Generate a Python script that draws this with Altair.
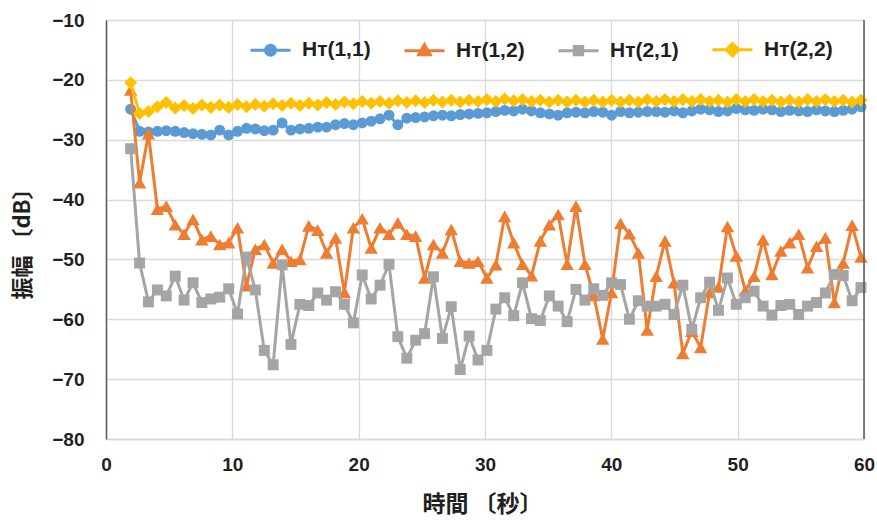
import altair as alt
import pandas as pd

times = [1.95, 2.66, 3.36, 4.07, 4.77, 5.48, 6.18, 6.89, 7.59, 8.30,
         9.00, 9.71, 10.41, 11.12, 11.82, 12.53, 13.23, 13.94, 14.64, 15.35,
         16.05, 16.76, 17.46, 18.17, 18.87, 19.58, 20.28, 20.99, 21.69, 22.40,
         23.10, 23.81, 24.51, 25.22, 25.92, 26.63, 27.33, 28.04, 28.74, 29.45,
         30.15, 30.86, 31.56, 32.27, 32.97, 33.68, 34.38, 35.09, 35.79, 36.50,
         37.20, 37.91, 38.61, 39.32, 40.02, 40.73, 41.43, 42.14, 42.84, 43.55,
         44.25, 44.96, 45.66, 46.37, 47.07, 47.78, 48.48, 49.19, 49.89, 50.60,
         51.30, 52.01, 52.71, 53.42, 54.12, 54.83, 55.53, 56.24, 56.94, 57.65,
         58.35, 59.06, 59.76]

h11 = [-24.9, -28.6, -28.7, -28.6, -28.5, -28.6, -28.8, -29.0, -29.1, -29.2,
       -28.4, -29.2, -28.6, -28.1, -28.2, -28.5, -28.4, -27.2, -28.4, -28.2,
       -28.1, -27.9, -27.9, -27.5, -27.3, -27.5, -27.2, -26.9, -26.5, -25.9,
       -27.5, -26.4, -26.3, -26.2, -26.0, -25.9, -26.0, -25.8, -25.7, -25.6,
       -25.5, -25.3, -25.1, -25.2, -24.9, -25.2, -25.5, -25.7, -25.9, -25.5,
       -25.4, -25.5, -25.3, -25.4, -25.9, -25.3, -25.5, -25.4, -25.3, -25.3,
       -25.4, -25.2, -25.5, -25.2, -24.9, -25.0, -25.3, -25.2, -24.8, -25.0,
       -25.1, -24.9, -25.0, -25.3, -25.1, -25.2, -25.3, -25.0, -25.2, -25.3,
       -25.1, -24.9, -24.5]

h12 = [-21.7, -37.2, -29.0, -41.6, -41.1, -44.2, -45.8, -43.3, -46.7, -46.1,
       -47.5, -47.2, -44.7, -54.4, -48.3, -47.5, -50.6, -48.3, -50.3, -50.0,
       -44.4, -45.1, -48.9, -46.4, -55.5, -44.7, -43.2, -48.1, -44.7, -45.8,
       -43.9, -45.8, -46.1, -53.1, -47.5, -48.9, -45.0, -50.3, -50.6, -50.3,
       -53.1, -50.9, -42.8, -47.2, -50.8, -52.7, -46.9, -44.2, -42.5, -50.8,
       -41.1, -50.8, -56.0, -63.3, -55.5, -44.0, -45.7, -48.9, -61.8, -52.8,
       -46.9, -53.9, -65.7, -62.0, -64.7, -55.5, -54.6, -44.5, -49.4, -55.2,
       -52.8, -46.7, -52.5, -48.6, -47.2, -45.8, -51.4, -47.8, -46.4, -57.2,
       -50.6, -44.3, -49.6]

h21 = [-31.5, -50.6, -57.1, -55.1, -56.1, -52.8, -56.8, -53.9, -57.2, -56.6,
       -56.3, -54.9, -59.1, -49.6, -55.1, -65.2, -67.6, -50.9, -64.2, -57.5,
       -57.7, -55.6, -56.8, -55.4, -57.5, -60.6, -52.6, -56.6, -54.3, -50.8,
       -62.9, -66.5, -63.5, -62.4, -52.9, -63.2, -57.9, -68.4, -62.8, -66.8,
       -65.2, -58.3, -56.4, -59.4, -53.9, -59.9, -60.2, -56.1, -57.8, -60.4,
       -55.0, -56.8, -54.9, -56.0, -53.9, -54.2, -60.0, -56.9, -57.8, -57.8,
       -57.5, -59.2, -54.3, -61.7, -56.4, -53.8, -58.5, -53.1, -57.5, -56.4,
       -55.3, -57.8, -59.3, -57.7, -57.5, -59.2, -57.8, -57.2, -55.6, -52.5,
       -52.7, -56.9, -54.7]

h22 = [-20.5, -25.6, -25.3, -24.5, -23.8, -24.7, -24.3, -24.8, -24.2, -24.6,
       -24.2, -24.6, -24.1, -24.5, -24.1, -24.4, -24.0, -24.3, -23.9, -24.3,
       -23.9, -24.2, -23.8, -24.1, -23.7, -24.0, -23.6, -23.9, -23.6, -23.9,
       -23.5, -23.8, -23.5, -23.8, -23.4, -23.7, -23.4, -23.7, -23.4, -23.6,
       -23.3, -23.6, -23.2, -23.5, -23.3, -23.6, -23.4, -23.7, -23.4, -23.7,
       -23.4, -23.7, -23.4, -23.7, -23.4, -23.7, -23.4, -23.7, -23.3, -23.6,
       -23.3, -23.6, -23.3, -23.6, -23.3, -23.6, -23.4, -23.7, -23.3, -23.6,
       -23.3, -23.6, -23.4, -23.7, -23.4, -23.7, -23.3, -23.6, -23.3, -23.6,
       -23.4, -23.7, -23.4]

series_names = ["H\u1d1b(1,1)", "H\u1d1b(1,2)", "H\u1d1b(2,1)", "H\u1d1b(2,2)"]
series_values = [h11, h12, h21, h22]
colors = ["#5B9BD5", "#ED7D31", "#A5A5A5", "#FFC000"]
shapes = ["circle", "triangle-up", "square", "diamond"]
marker_sizes = [120, 180, 120, 170]

x_ticks = [0, 10, 20, 30, 40, 50, 60]
y_ticks = [-80, -70, -60, -50, -40, -30, -20, -10]

rows = []
for name, vals in zip(series_names, series_values):
    for t, v in zip(times, vals):
        rows.append({"t": t, "v": v, "series": name})
df = pd.DataFrame(rows)

num_font = "Liberation Sans Narrow, Liberation Sans, sans-serif"
jp_font = "Noto Sans CJK JP"
text_color = "#1f1f1f"
grid_color = "#d9d9d9"

x_enc = alt.X(
    "t:Q",
    scale=alt.Scale(domain=[0, 60], nice=False, zero=False),
    axis=alt.Axis(
        values=x_ticks, title="時間 〔秒〕", grid=True, gridColor=grid_color, gridWidth=1.3,
        ticks=False, domain=True, domainColor=grid_color, domainWidth=1.3,
        labelFont=num_font, labelFontSize=19, labelFontWeight="bold", labelColor=text_color,
        labelPadding=16, labelFlush=False,
        titleFont=jp_font, titleFontSize=23, titleFontWeight="bold", titleColor=text_color,
        titleX=376, titleY=65, titleBaseline="middle", titleAlign="center",
    ),
)
y_enc = alt.Y(
    "v:Q",
    scale=alt.Scale(domain=[-80, -10], nice=False, zero=False),
    axis=alt.Axis(
        values=y_ticks, title="振幅 〔dB〕", grid=True, gridColor=grid_color, gridWidth=1.3,
        ticks=False, domain=True, domainColor="#595959", domainWidth=1.5,
        labelFont=num_font, labelFontSize=19, labelFontWeight="bold", labelColor=text_color,
        labelPadding=22, labelFlush=False,
        titleFont=jp_font, titleFontSize=22, titleFontWeight="bold", titleColor=text_color,
        titleX=-84, titleY=218, titleAngle=270, titleBaseline="middle", titleAlign="center",
    ),
)

layers = []
for name, c, sh, sz in zip(series_names, colors, shapes, marker_sizes):
    layers.append(
        alt.Chart(df)
        .transform_filter(alt.datum.series == name)
        .mark_line(
            color=c, strokeWidth=3,
            point=alt.OverlayMarkDef(shape=sh, size=sz, filled=True, color=c, opacity=1),
        )
        .encode(x=x_enc, y=y_enc, order="t:Q")
    )

# right frame edge
frame_df = pd.DataFrame({"t": [60]})
right_edge = alt.Chart(frame_df).mark_rule(color="#595959", strokeWidth=1.5).encode(x="t:Q")

# legend symbols: line with marker in the middle
legend_paths = [
    "M-1,0H1M0.25,0A0.25,0.25,0,1,1,-0.25,0A0.25,0.25,0,1,1,0.25,0Z",
    "M-1,0H1M0,-0.3L0.29,0.21L-0.29,0.21Z",
    "M-1,0H1M-0.21,-0.21H0.21V0.21H-0.21Z",
    "M-1,0H1M0,-0.31L0.31,0L0,0.31L-0.31,0Z",
]
leg = alt.Legend(
    title=None, orient="none", legendX=143, legendY=8, direction="horizontal",
    symbolSize=1600, symbolStrokeWidth=3, labelFont=num_font, labelFontSize=21,
    labelFontWeight="bold", labelColor=text_color, labelOffset=10, columnPadding=27,
    labelLimit=200,
)
legend_layer = (
    alt.Chart(df)
    .transform_filter("false")
    .mark_point(filled=True, opacity=1)
    .encode(
        x=x_enc,
        y=y_enc,
        fill=alt.Fill("series:N", scale=alt.Scale(domain=series_names, range=colors), legend=leg),
        stroke=alt.Stroke("series:N", scale=alt.Scale(domain=series_names, range=colors), legend=leg),
        shape=alt.Shape("series:N", scale=alt.Scale(domain=series_names, range=legend_paths), legend=leg),
    )
)

chart = (
    alt.layer(*layers, right_edge, legend_layer)
    .properties(
        width=758, height=419,
        autosize=alt.AutoSizeParams(type="none"),
        padding={"left": 106, "top": 20, "right": 13, "bottom": 81},
        background="white",
    )
    .configure_view(stroke=None)
)

chart.save("out.html", embed_options={"renderer": "svg", "actions": False})
